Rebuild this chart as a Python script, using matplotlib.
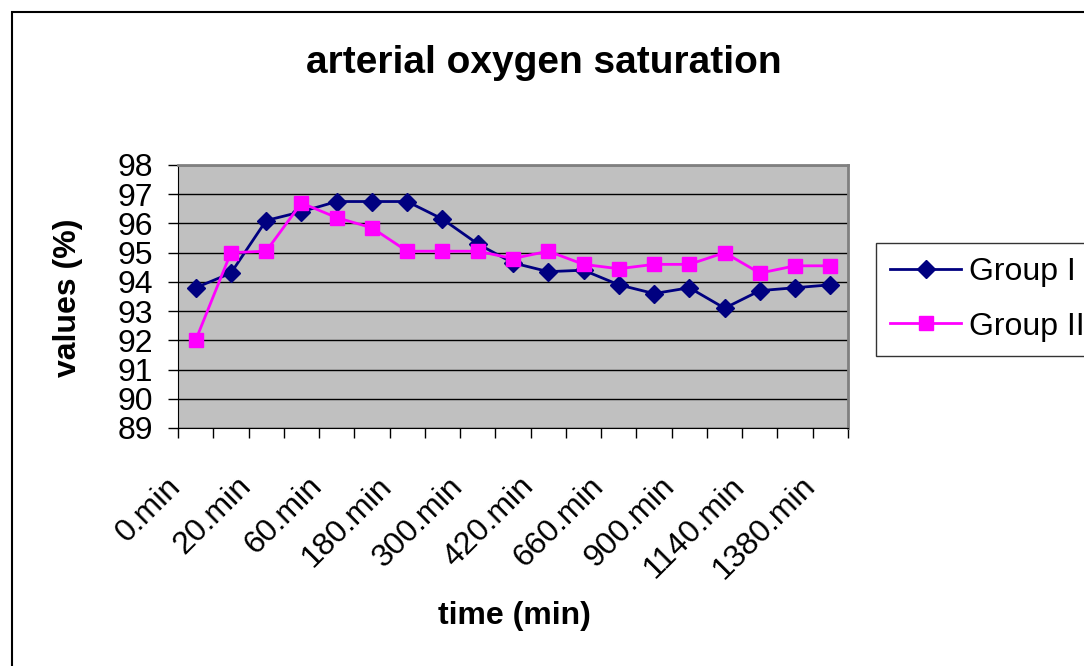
import numpy as np
import matplotlib
matplotlib.use('Agg')
import matplotlib.pyplot as plt
import matplotlib.transforms as mtransforms
from matplotlib.patches import Rectangle

# ==========================================
# DATA
# ==========================================
times = ['0.min', '10.min', '20.min', '40.min', '60.min', '120.min', '180.min',
         '240.min', '300.min', '360.min', '420.min', '540.min', '660.min',
         '780.min', '900.min', '1020.min', '1140.min', '1260.min', '1380.min']

group_1 = [93.8, 94.3, 96.1, 96.4, 96.75, 96.75, 96.75, 96.15, 95.3, 94.65,
           94.35, 94.4, 93.9, 93.6, 93.8, 93.1, 93.7, 93.8, 93.9]
group_2 = [92.0, 95.0, 95.05, 96.7, 96.2, 95.85, 95.05, 95.05, 95.05, 94.8,
           95.05, 94.6, 94.45, 94.6, 94.6, 95.0, 94.3, 94.55, 94.55]

y_ticks = list(range(89, 99))

# ==========================================
# FIGURE
# ==========================================
plt.rcParams['font.family'] = ['Liberation Sans', 'DejaVu Sans']

W, H = 1084, 666
fig = plt.figure(figsize=(W / 100, H / 100), dpi=100)

# outer chart frame (runs off the right and bottom edges)
fig.patches.append(Rectangle((12 / W, -0.05), 1.2, 1 - 12 / H + 0.05,
                             transform=fig.transFigure, fill=False,
                             edgecolor='black', linewidth=1.5))

left, right, top, bottom = 178, 848, 165, 428
ax = fig.add_axes([left / W, 1 - bottom / H, (right - left) / W, (bottom - top) / H])
ax.set_facecolor('#C0C0C0')

x = np.arange(len(times))
ax.plot(x, group_1, color='#000080', marker='D', markersize=9, linewidth=2,
        label='Group I', zorder=3)
ax.plot(x, group_2, color='#FF00FF', marker='s', markersize=10, linewidth=2,
        label='Group II', zorder=3)

ax.set_xlim(-0.5, len(times) - 0.5)
ax.set_ylim(89, 98)
ax.set_yticks(y_ticks)
ax.set_yticklabels([str(v) for v in y_ticks], fontsize=23)
ax.yaxis.grid(True, color='black', linewidth=1)
ax.set_axisbelow(True)

# tick marks at category borders; labels on every other category,
# drawn as texts so they can sit slightly left of the category centre
ax.set_xticks(np.arange(-0.5, len(times), 1))
ax.set_xticklabels([])
ax.tick_params(axis='x', length=7, width=1, color='black')
ax.tick_params(axis='y', length=7, width=1, color='black', pad=11)

lbl_trans = ax.get_xaxis_transform() + mtransforms.ScaledTranslation(
    -0.30, -0.43, fig.dpi_scale_trans)
for i in x[::2]:
    ax.text(i, 0, times[i], transform=lbl_trans, rotation=45, ha='right',
            va='top', rotation_mode='anchor', fontsize=23)

for side in ['top', 'right']:
    ax.spines[side].set_color('#808080')
    ax.spines[side].set_linewidth(2)
ax.spines['left'].set_color('black')
ax.spines['bottom'].set_color('black')

fig.text(544 / W, 1 - 63 / H, 'arterial oxygen saturation', ha='center',
         va='center', fontsize=28, fontweight='bold')
fig.text(68 / W, 1 - 298 / H, 'values (%)', ha='center', va='center',
         rotation=90, fontsize=23, fontweight='bold')
fig.text(514 / W, 1 - 616 / H, 'time (min)', ha='center', va='center',
         fontsize=23, fontweight='bold')

leg = fig.legend(loc='upper left', bbox_to_anchor=(876 / W, 1 - 243 / H),
                 fontsize=23, frameon=True, fancybox=False, edgecolor='black',
                 borderaxespad=0, handlelength=2.2, borderpad=0.45,
                 labelspacing=0.76, handletextpad=0.25)
leg.get_frame().set_linewidth(1)

fig.savefig('out.png', dpi=100)
